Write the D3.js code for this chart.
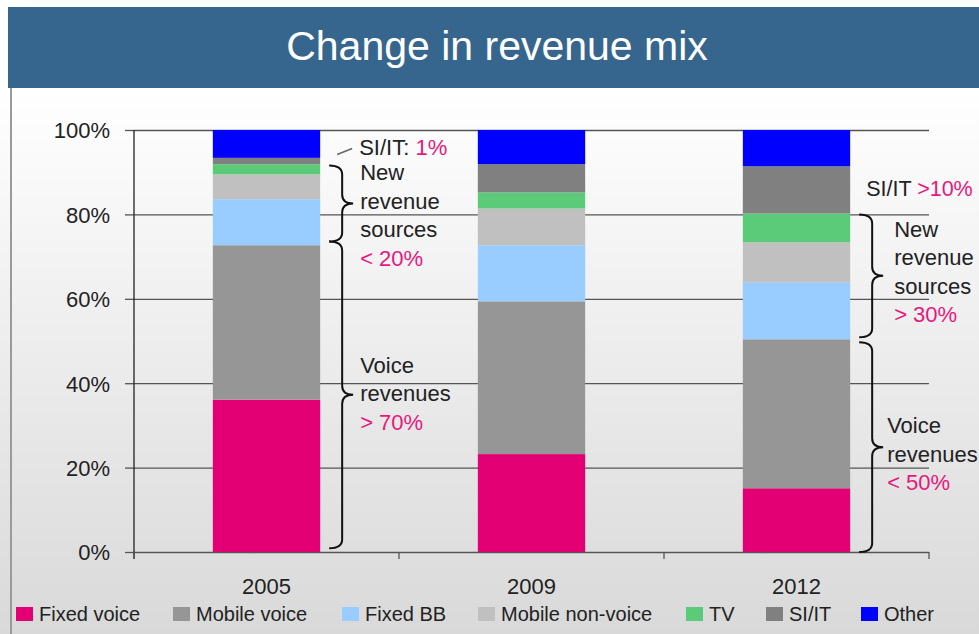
<!DOCTYPE html>
<html>
<head>
<meta charset="utf-8">
<script src="https://cdn.jsdelivr.net/npm/d3@7"></script>
<style>
body { margin: 0; background: #fff; }
text { font-family: "Liberation Sans", Arial, sans-serif; }
</style>
</head>
<body>
<div class="chart"></div>
<script>
// Values, percent of total revenue
var years = ["2005", "2009", "2012"];
var seriesNames = ["Fixed voice", "Mobile voice", "Fixed BB", "Mobile non-voice", "TV", "SI/IT", "Other"];
var seriesColors = ["#e20074", "#969696", "#99ccff", "#c0c0c0", "#5bcb7a", "#808080", "#0000ff"];
var fixedVoice     = [36.1, 23.2, 15.1];
var mobileVoice    = [36.6, 36.2, 35.3];
var fixedBB        = [10.9, 13.3, 13.5];
var mobileNonVoice = [5.9, 8.7, 9.5];
var tv             = [2.4, 3.8, 6.8];
var siIt           = [1.5, 6.7, 11.2];
var other          = [6.6, 8.1, 8.6];
var yTicks = [0, 20, 40, 60, 80, 100];
var legendX = [16, 173, 342, 478, 686, 766, 861];

var pink = "#e8177d";
var width = 979, height = 634;
var margin = {top: 130, right: 50, bottom: 82, left: 134};

var svg = d3.select(".chart").append("svg")
    .attr("width", width)
    .attr("height", height);

// background gradient
var grad = svg.append("defs").append("linearGradient")
    .attr("id", "bg")
    .attr("x1", 0).attr("y1", 0).attr("x2", 0).attr("y2", 1);
grad.append("stop").attr("offset", "0").attr("stop-color", "#ffffff");
grad.append("stop").attr("offset", "1").attr("stop-color", "#d9d9d9");

svg.append("rect")
    .attr("x", 0).attr("y", 88)
    .attr("width", width).attr("height", height - 88)
    .attr("fill", "url(#bg)");

svg.append("line")
    .attr("x1", 11).attr("x2", 11).attr("y1", 88).attr("y2", height)
    .attr("stroke", "#9a9a9a").attr("stroke-width", 2);

// title banner
svg.append("rect")
    .attr("x", 8).attr("y", 7)
    .attr("width", width - 8).attr("height", 81)
    .attr("fill", "#36668e");
svg.append("text")
    .attr("x", 497).attr("y", 60)
    .attr("text-anchor", "middle")
    .attr("fill", "#fff")
    .style("font-size", "41px")
    .text("Change in revenue mix");

// scales
var x = d3.scaleBand()
    .domain(years)
    .range([margin.left, width - margin.right])
    .padding(0);
var y = d3.scaleLinear()
    .domain([0, 100])
    .range([height - margin.bottom, margin.top]);
var barW = x.bandwidth() * 0.405;

// gridlines
var grid = svg.append("g")
    .attr("transform", "translate(" + margin.left + ",0)")
    .call(d3.axisLeft(y).tickValues(yTicks).tickSize(-(x.range()[1] - x.range()[0])).tickFormat(""));
grid.select(".domain").remove();
grid.selectAll("line").attr("stroke", "#555").attr("stroke-width", 1.3);

// y axis with labels
var yAxis = svg.append("g")
    .attr("transform", "translate(" + margin.left + ",0)")
    .call(d3.axisLeft(y).tickValues(yTicks).tickSize(9).tickSizeOuter(0).tickPadding(15)
      .tickFormat(function(d) { return d + "%"; }));
yAxis.select(".domain").remove();
yAxis.selectAll("line").attr("stroke", "#555").attr("stroke-width", 1.3);
yAxis.selectAll("text")
    .attr("fill", "#222")
    .attr("dy", "0.36em")
    .style("font-size", "22px")
    .style("font-family", "'Liberation Sans', Arial, sans-serif");

svg.append("line")
    .attr("x1", margin.left).attr("x2", margin.left)
    .attr("y1", y(100)).attr("y2", y(0) + 7)
    .attr("stroke", "#222").attr("stroke-width", 1.3);

// x axis: tick marks at category boundaries, labels at centres
var bounds = years.map(function(d) { return x(d); }).concat([x.range()[1]]);
svg.selectAll(".xtick").data(bounds).enter().append("line")
    .attr("class", "xtick")
    .attr("x1", function(d) { return d; }).attr("x2", function(d) { return d; })
    .attr("y1", y(0)).attr("y2", y(0) + 7)
    .attr("stroke", "#555").attr("stroke-width", 1.3);

var xAxis = svg.append("g")
    .attr("transform", "translate(0," + y(0) + ")")
    .call(d3.axisBottom(x).tickSize(0).tickPadding(26));
xAxis.select(".domain").remove();
xAxis.selectAll("text")
    .attr("fill", "#222")
    .style("font-size", "22px")
    .style("font-family", "'Liberation Sans', Arial, sans-serif");

// stacked bars
var table = years.map(function(yr, i) {
  return {
    year: yr,
    "Fixed voice": fixedVoice[i],
    "Mobile voice": mobileVoice[i],
    "Fixed BB": fixedBB[i],
    "Mobile non-voice": mobileNonVoice[i],
    "TV": tv[i],
    "SI/IT": siIt[i],
    "Other": other[i]
  };
});
var stacked = d3.stack().keys(seriesNames)(table);

svg.append("g").selectAll("g")
  .data(stacked)
  .enter().append("g")
    .attr("fill", function(d, i) { return seriesColors[i]; })
  .selectAll("rect")
  .data(function(d) { return d; })
  .enter().append("rect")
    .attr("x", function(d) { return x(d.data.year) + (x.bandwidth() - barW) / 2; })
    .attr("y", function(d) { return y(d[1]); })
    .attr("width", barW)
    .attr("height", function(d) { return y(d[0]) - y(d[1]); });

// annotations
function barRight(yr) { return x(yr) + (x.bandwidth() + barW) / 2; }

function bracePath(x0, xm, xt, y0, y1) {
  var ym = (y0 + y1) / 2, r = Math.min(9, (y1 - y0) / 4);
  return "M" + x0 + "," + y0 +
    " Q" + xm + "," + y0 + " " + xm + "," + (y0 + r) +
    " L" + xm + "," + (ym - r) +
    " Q" + xm + "," + ym + " " + xt + "," + ym +
    " Q" + xm + "," + ym + " " + xm + "," + (ym + r) +
    " L" + xm + "," + (y1 - r) +
    " Q" + xm + "," + y1 + " " + x0 + "," + y1;
}

var braces = [
  {year: "2005", lo: 73.6, hi: 91.6, dx: 40, dy0: -23, lines: [["New"], ["revenue"], ["sources"], [null, "< 20%"]]},
  {year: "2005", lo: 0.9, hi: 73.6, dx: 40, dy0: -22, lines: [["Voice"], ["revenues"], [null, "> 70%"]]},
  {year: "2012", lo: 50.9, hi: 80, dx: 44, dy0: -39, lines: [["New"], ["revenue"], ["sources"], [null, "> 30%"]]},
  {year: "2012", lo: 0, hi: 49.7, dx: 37, dy0: -14, lines: [["Voice"], ["revenues"], [null, "< 50%"]]}
];

braces.forEach(function(b) {
  var r = barRight(b.year);
  var y0 = y(b.hi), y1 = y(b.lo), ym = (y0 + y1) / 2;
  svg.append("path")
    .attr("d", bracePath(r + 9, r + 22, r + 33, y0, y1))
    .attr("fill", "none")
    .attr("stroke", "#111")
    .attr("stroke-width", 2);
  b.lines.forEach(function(l, i) {
    var t = svg.append("text")
      .attr("x", r + b.dx)
      .attr("y", ym + b.dy0 + i * 28.5)
      .style("font-size", "22px");
    if (l[0]) t.append("tspan").attr("fill", "#222").text(l[0]);
    if (l[1]) t.append("tspan").attr("fill", pink).text(l[1]);
  });
});

// SI/IT labels
var r05 = barRight("2005");
svg.append("line")
    .attr("x1", r05 + 17).attr("y1", y(94.2))
    .attr("x2", r05 + 32).attr("y2", y(95.6))
    .attr("stroke", "#666").attr("stroke-width", 1.5);
var s1 = svg.append("text")
    .attr("x", r05 + 39).attr("y", y(94.0))
    .style("font-size", "22px");
s1.append("tspan").attr("fill", "#222").text("SI/IT: ");
s1.append("tspan").attr("fill", pink).text("1%");

var r12 = barRight("2012");
var s2 = svg.append("text")
    .attr("x", r12 + 16).attr("y", y(84.3))
    .style("font-size", "21.5px");
s2.append("tspan").attr("fill", "#222").text("SI/IT ");
s2.append("tspan").attr("fill", pink).text(">10%");

// legend
var legend = svg.append("g").selectAll("g")
  .data(seriesNames)
  .enter().append("g")
    .attr("transform", function(d, i) { return "translate(" + legendX[i] + ",607)"; });
legend.append("rect")
    .attr("width", 17).attr("height", 14)
    .attr("fill", function(d, i) { return seriesColors[i]; });
legend.append("text")
    .attr("x", 23).attr("y", 14)
    .attr("fill", "#222")
    .style("font-size", "20px")
    .text(function(d) { return d; });
</script>
</body>
</html>
